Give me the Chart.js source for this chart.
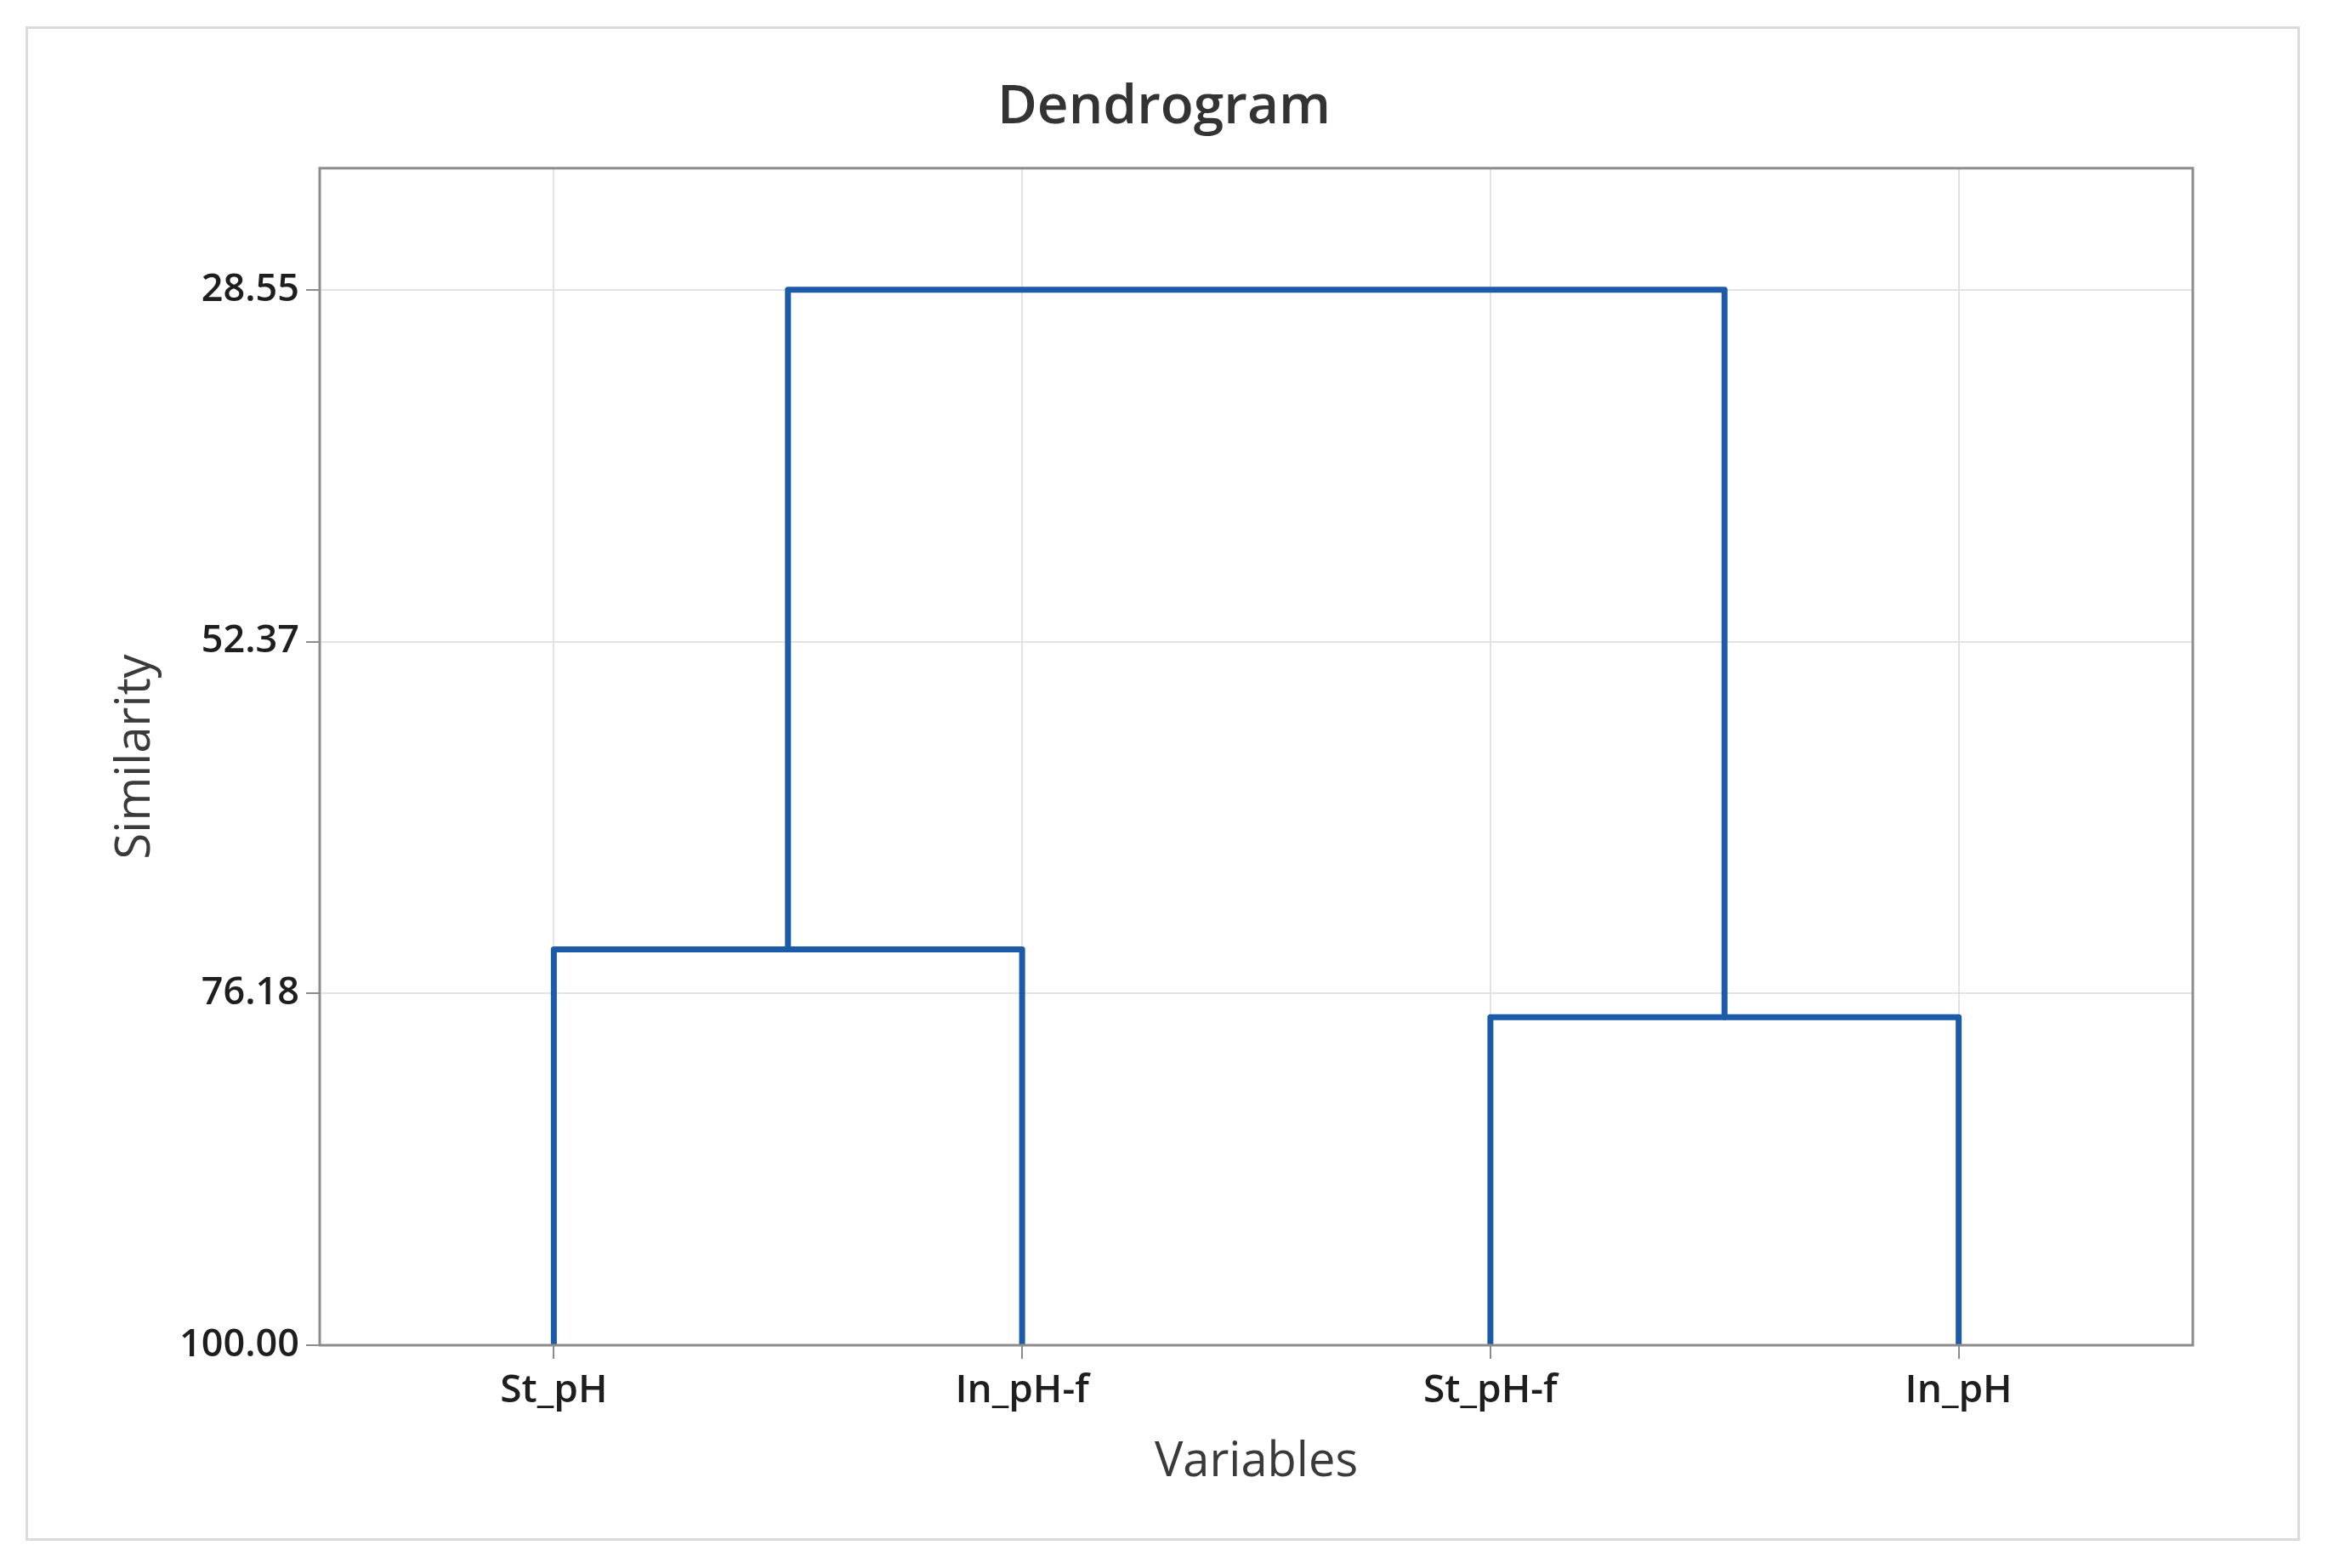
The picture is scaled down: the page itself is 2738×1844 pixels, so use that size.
<!DOCTYPE html>
<html>
<head>
<meta charset="utf-8">
<title>Dendrogram</title>
<script src="https://cdn.jsdelivr.net/npm/chart.js@4"></script>
<style>
  html, body { margin: 0; padding: 0; background: #ffffff; }
  canvas { display: block; }
</style>
</head>
<body>
<canvas id="graph" width="2738" height="1844"></canvas>
<script>
// leaves in plotted order
var variables = ["St_pH", "In_pH-f", "St_pH-f", "In_pH"];

// merge steps: clusters 0-3 are the leaves, each step makes a new cluster (4, 5, 6)
var joinA = [0, 2, 4];
var joinB = [1, 3, 5];
var joinSimilarity = [73.2, 77.8, 28.55];

// similarity axis
var simTicks = [28.55, 52.37, 76.18, 100];
var simMin = 20.32;
var simMax = 100;

var blue = "#1b5ba9";
var fontFamily = "'Open Sans', 'Noto Sans', sans-serif";

// positions and heights of every cluster, leaves first
var clusterX = variables.map(function (v, i) { return i + 1; });
var clusterSim = variables.map(function () { return 100; });

var datasets = [];
for (var i = 0; i < joinA.length; i++) {
  var a = joinA[i];
  var b = joinB[i];
  var h = joinSimilarity[i];
  datasets.push({
    label: "link " + (i + 1),
    data: [
      { x: clusterX[a], y: clusterSim[a] },
      { x: clusterX[a], y: h },
      { x: clusterX[b], y: h },
      { x: clusterX[b], y: clusterSim[b] }
    ],
    showLine: true,
    borderColor: blue,
    borderWidth: 7,
    borderJoinStyle: "round",
    pointRadius: 0,
    fill: false
  });
  clusterX.push((clusterX[a] + clusterX[b]) / 2);
  clusterSim.push(h);
}

// plot frame and outer figure border
var framePlugin = {
  id: "frame",
  beforeDraw: function (c) {
    var ctx = c.ctx;
    ctx.save();
    ctx.fillStyle = "#ffffff";
    ctx.fillRect(0, 0, c.width, c.height);
    ctx.strokeStyle = "#dadada";
    ctx.lineWidth = 3;
    ctx.strokeRect(31.5, 32.5, 2672, 1778);
    ctx.restore();
  },
  afterDatasetsDraw: function (c) {
    var ctx = c.ctx;
    var area = c.chartArea;
    ctx.save();
    ctx.strokeStyle = "#8c8c8c";
    ctx.lineWidth = 3;
    ctx.strokeRect(area.left, area.top, area.right - area.left, area.bottom - area.top);
    ctx.restore();
  }
};

var ctx = document.getElementById("graph").getContext("2d");

var chart = new Chart(ctx, {
  type: "scatter",
  data: { datasets: datasets },
  plugins: [framePlugin],
  options: {
    responsive: false,
    animation: false,
    devicePixelRatio: 1,
    layout: {
      padding: 0
    },
    plugins: {
      legend: { display: false },
      tooltip: { enabled: false },
      title: {
        display: true,
        text: "Dendrogram",
        color: "#333333",
        font: { family: fontFamily, size: 64, weight: "600" },
        padding: { top: 88, bottom: 33 }
      }
    },
    scales: {
      x: {
        type: "linear",
        position: "bottom",
        min: 0.5,
        max: 4.5,
        afterBuildTicks: function (s) {
          s.ticks = variables.map(function (v, i) { return { value: i + 1 }; });
        },
        afterFit: function (s) { s.height = 262; },
        ticks: {
          color: "#1e1e1e",
          padding: 10,
          font: { family: fontFamily, size: 46, weight: "600" },
          callback: function (value) { return variables[value - 1]; }
        },
        grid: {
          color: "#e3e3e3",
          lineWidth: 2,
          tickColor: "#8c8c8c",
          tickWidth: 2,
          tickLength: 16
        },
        border: { display: false },
        title: {
          display: true,
          text: "Variables",
          color: "#3a3a3a",
          font: { family: fontFamily, size: 56, weight: "500" },
          padding: { top: 0, bottom: 90 }
        }
      },
      y: {
        type: "linear",
        position: "left",
        reverse: true,
        min: simMin,
        max: simMax,
        afterBuildTicks: function (s) {
          s.ticks = simTicks.map(function (v) { return { value: v }; });
        },
        afterFit: function (s) { s.width = 376; },
        ticks: {
          color: "#1e1e1e",
          padding: 8,
          font: { family: fontFamily, size: 45, weight: "600" },
          callback: function (value) { return Number(value).toFixed(2); }
        },
        grid: {
          color: "#e3e3e3",
          lineWidth: 2,
          tickColor: "#8c8c8c",
          tickWidth: 2,
          tickLength: 16
        },
        border: { display: false },
        title: {
          display: true,
          text: "Similarity",
          color: "#3a3a3a",
          font: { family: fontFamily, size: 56, weight: "500" },
          padding: { top: 126, bottom: 0 }
        }
      },
      // empty right-hand axis that only reserves the margin beside the plot
      yRight: {
        type: "linear",
        position: "right",
        display: true,
        min: simMin,
        max: simMax,
        afterFit: function (s) { s.width = 159; },
        ticks: { display: false },
        grid: { display: false, drawTicks: false },
        border: { display: false }
      }
    }
  }
});
</script>
</body>
</html>
